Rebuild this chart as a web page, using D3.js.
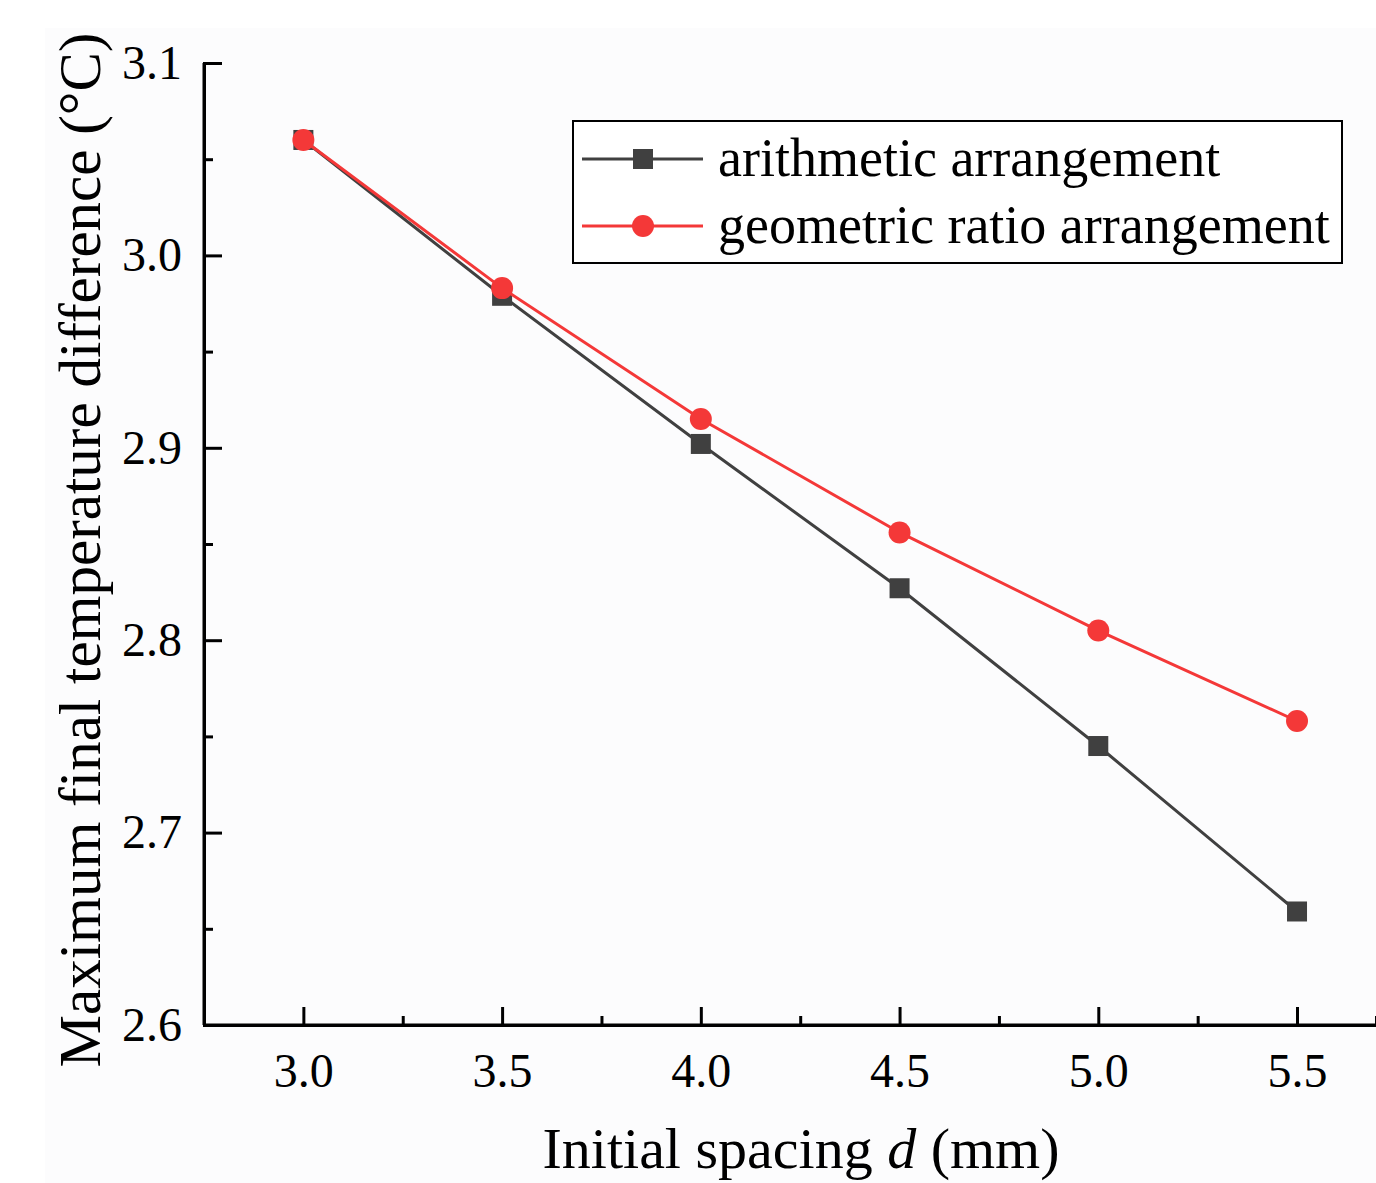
<!DOCTYPE html>
<html>
<head>
<meta charset="utf-8">
<script src="https://cdn.jsdelivr.net/npm/d3@7"></script>
<style>
  body { margin: 0; background: #fff; }
  text { font-family: "Liberation Serif", "Times New Roman", serif; fill: #000; }
</style>
</head>
<body>
<div class="chart"></div>
<script>
// data
const spacing = [3.0, 3.5, 4.0, 4.5, 5.0, 5.5];
const arithmetic = [3.060, 2.979, 2.902, 2.827, 2.745, 2.659];
const geometric = [3.060, 2.983, 2.915, 2.856, 2.805, 2.758];
const xTicks = [3.0, 3.5, 4.0, 4.5, 5.0, 5.5];
const yTicks = [2.6, 2.7, 2.8, 2.9, 3.0, 3.1];
const seriesNames = ["arithmetic arrangement", "geometric ratio arrangement"];

const WIDTH = 1376, HEIGHT = 1183;
const M = {top: 63, left: 204, bottom: 1025, right: 1376};

const svg = d3.select(".chart").append("svg")
    .attr("width", WIDTH)
    .attr("height", HEIGHT);

// faint paper background
svg.append("rect")
    .attr("x", 45).attr("y", 28)
    .attr("width", WIDTH - 45).attr("height", HEIGHT - 28)
    .attr("fill", "#fcfcfd");

const xScale = d3.scaleLinear()
    .domain([2.75, 5.5 + (M.right - 1297) / 397.6])
    .range([M.left, M.right]);

const yScale = d3.scaleLinear()
    .domain([2.6, 3.1])
    .range([M.bottom, M.top]);

// axes, ticks drawn inward
const xAxis = d3.axisBottom(xScale).tickValues(xTicks).tickSize(-18).tickPadding(28)
    .tickFormat(d3.format(".1f"));
const xMinor = d3.axisBottom(xScale).tickValues([3.25, 3.75, 4.25, 4.75, 5.25]).tickSize(-9).tickFormat("");
const yAxis = d3.axisLeft(yScale).tickValues(yTicks).tickSize(-18).tickPadding(22)
    .tickFormat(d3.format(".1f"));
const yMinor = d3.axisLeft(yScale).tickValues([2.65, 2.75, 2.85, 2.95, 3.05]).tickSize(-9).tickFormat("");

function styleAxis(g) {
  g.select(".domain").attr("stroke", "#000").attr("stroke-width", 3);
  g.selectAll(".tick line").attr("stroke", "#000").attr("stroke-width", 3);
  g.selectAll(".tick text").style("font-size", "48px").attr("fill", "#000");
}

svg.append("g").attr("transform", "translate(0," + M.bottom + ")").call(xMinor).call(styleAxis);
svg.append("g").attr("transform", "translate(" + M.left + ",0)").call(yMinor).call(styleAxis);
svg.append("g").attr("class", "x axis")
    .attr("transform", "translate(0," + M.bottom + ")")
    .call(xAxis).call(styleAxis)
    .select(".domain").attr("d", "M" + M.left + ",0H" + M.right);
svg.append("g").attr("class", "y axis")
    .attr("transform", "translate(" + M.left + ",0)")
    .call(yAxis).call(styleAxis)
    .select(".domain").attr("d", "M0," + M.top + "V" + M.bottom);

// axis titles
const xTitle = svg.append("text")
    .attr("x", 801).attr("y", 1168)
    .style("text-anchor", "middle")
    .style("font-size", "58px");
xTitle.append("tspan").text("Initial spacing ");
xTitle.append("tspan").style("font-style", "italic").text("d");
xTitle.append("tspan").text(" (mm)");

svg.append("text")
    .attr("transform", "translate(100,550) rotate(-90)")
    .style("text-anchor", "middle")
    .style("font-size", "59px")
    .text("Maximum final temperature difference (\u00B0C)");

// lines and markers
const line = d3.line()
    .x((d, i) => xScale(spacing[i]))
    .y(d => yScale(d));

const colors = ["#404040", "#f43838"];

svg.append("path").datum(arithmetic)
    .attr("d", line).attr("fill", "none")
    .attr("stroke", colors[0]).attr("stroke-width", 3);
svg.selectAll(".sq").data(arithmetic).enter()
    .append("rect")
    .attr("x", (d, i) => xScale(spacing[i]) - 10)
    .attr("y", d => yScale(d) - 10)
    .attr("width", 20).attr("height", 20)
    .attr("fill", colors[0]);

svg.append("path").datum(geometric)
    .attr("d", line).attr("fill", "none")
    .attr("stroke", colors[1]).attr("stroke-width", 3);
svg.selectAll(".dot").data(geometric).enter()
    .append("circle")
    .attr("cx", (d, i) => xScale(spacing[i]))
    .attr("cy", d => yScale(d))
    .attr("r", 11)
    .attr("fill", colors[1]);

// legend
const lg = svg.append("g");
lg.append("rect")
    .attr("x", 573).attr("y", 121).attr("width", 769).attr("height", 142)
    .attr("fill", "#fff").attr("stroke", "#000").attr("stroke-width", 2);

const rows = [159, 226];
seriesNames.forEach((name, i) => {
  lg.append("line")
      .attr("x1", 582).attr("x2", 703).attr("y1", rows[i]).attr("y2", rows[i])
      .attr("stroke", colors[i]).attr("stroke-width", 3);
  if (i === 0) {
    lg.append("rect").attr("x", 633).attr("y", rows[i] - 10)
        .attr("width", 20).attr("height", 20).attr("fill", colors[i]);
  } else {
    lg.append("circle").attr("cx", 643).attr("cy", rows[i]).attr("r", 11).attr("fill", colors[i]);
  }
  lg.append("text")
      .attr("x", 718).attr("y", rows[i] + 17)
      .style("font-size", "54px")
      .text(name);
});
</script>
</body>
</html>
